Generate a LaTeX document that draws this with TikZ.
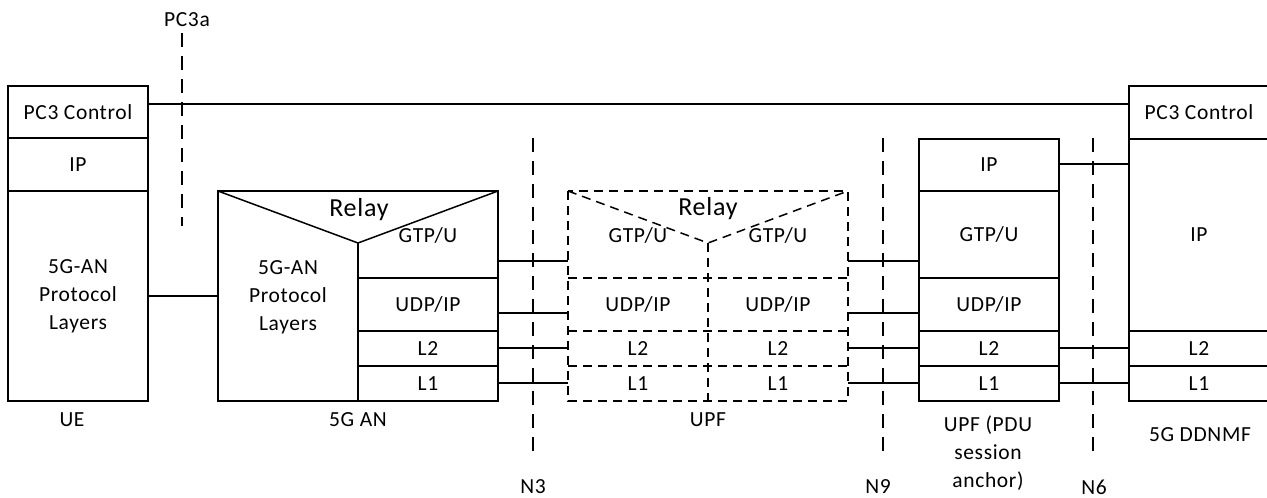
\documentclass[tikz,border=0pt]{standalone}
\usepackage{fontspec}
\setmainfont{Carlito}[LetterSpace=3]
\begin{document}
\begin{tikzpicture}[x=1pt,y=-1pt,
  every node/.style={font=\fontsize{21.5}{28}\selectfont},
  lay/.style={draw,line width=1.5pt,inner sep=0pt,align=center,minimum width=140pt},
  txt/.style={inner sep=0pt,align=center},
  conn/.style={line width=1.5pt},
  dbox/.style={dash pattern=on 9pt off 6pt,line width=1.5pt},
  iface/.style={line width=1.5pt,dash pattern=on 14pt off 9pt},
  relaytxt/.style={inner sep=0pt,font=\fontsize{26}{30}\selectfont}]
\useasboundingbox (0,0) rectangle (1267,498);
% UE
\node[lay,minimum height=52pt] (uepc3) at (78,112) {PC3 Control};
\node[lay,minimum height=53pt] (ueip) at (78,164.5) {IP};
\node[lay,minimum height=210pt] (uean) at (78,296) {5G-AN\\Protocol\\Layers};
\node[txt] (uelbl) at (72,420) {UE};
% 5G AN
\draw[conn] (218,191) rectangle (498,401);
\draw[conn] (218,191) -- (358,243) -- (498,191);
\draw[conn] (358,243) -- (358,401);
\node[relaytxt] (anrelay) at (359,210) {Relay};
\node[txt] (anproto) at (288,297) {5G-AN\\Protocol\\Layers};
\node[txt] (angtp) at (428,235) {GTP/U};
\node[lay,minimum height=53pt] (anudp) at (428,304.5) {UDP/IP};
\node[lay,minimum height=35pt] (anl2) at (428,348.5) {L2};
\node[lay,minimum height=35pt] (anl1) at (428,383.5) {L1};
\node[txt] (anlbl) at (358,420) {5G AN};
% UPF (dashed)
\draw[dbox] (568,191) rectangle (848,401);
\draw[dbox] (568,191) -- (708,243) -- (848,191);
\draw[dbox] (708,243) -- (708,401);
\draw[dbox] (568,278) -- (848,278);
\draw[dbox] (568,331) -- (848,331);
\draw[dbox] (568,366) -- (848,366);
\node[relaytxt] (uprelay) at (708,209) {Relay};
\node[txt] (upgtpa) at (638,235) {GTP/U};
\node[txt] (upgtpb) at (778,235) {GTP/U};
\node[txt] (upudpa) at (638,304.5) {UDP/IP};
\node[txt] (upudpb) at (778,304.5) {UDP/IP};
\node[txt] (upl2a) at (638,348.5) {L2};
\node[txt] (upl2b) at (778,348.5) {L2};
\node[txt] (upl1a) at (638,383.5) {L1};
\node[txt] (upl1b) at (778,383.5) {L1};
\node[txt] (uplbl) at (708,420) {UPF};
% UPF PDU session anchor
\node[lay,minimum height=52pt] (paip) at (989,165) {IP};
\node[lay,minimum height=87pt] (pagtp) at (989,234.5) {GTP/U};
\node[lay,minimum height=53pt] (paudp) at (989,304.5) {UDP/IP};
\node[lay,minimum height=35pt] (pal2) at (989,348.5) {L2};
\node[lay,minimum height=35pt] (pal1) at (989,383.5) {L1};
\node[txt] (palbl) at (988,453) {UPF (PDU\\session\\anchor)};
% 5G DDNMF
\node[lay,minimum height=53pt] (ddpc3) at (1199,112.5) {PC3 Control};
\node[lay,minimum height=192pt] (ddip) at (1199,235) {IP};
\node[lay,minimum height=35pt] (ddl2) at (1199,348.5) {L2};
\node[lay,minimum height=35pt] (ddl1) at (1199,383.5) {L1};
\node[txt] (ddlbl) at (1200,435) {5G DDNMF};
% connector end points
\coordinate (ueline) at (148,104);
\coordinate (ddline) at (1129,104);
\coordinate (anG) at (498,261); \coordinate (upGl) at (568,261);
\coordinate (anU) at (498,313); \coordinate (upUl) at (568,313);
\coordinate (anL2) at (498,348); \coordinate (upL2l) at (568,348);
\coordinate (anL1) at (498,383); \coordinate (upL1l) at (568,383);
\coordinate (upGr) at (848,261); \coordinate (paG) at (919,261);
\coordinate (upUr) at (848,313); \coordinate (paU) at (919,313);
\coordinate (upL2r) at (848,348); \coordinate (paL2) at (919,348);
\coordinate (upL1r) at (848,383); \coordinate (paL1) at (919,383);
\coordinate (paIPr) at (1059,164); \coordinate (ddIPl) at (1129,164);
\coordinate (paL2r) at (1059,348); \coordinate (ddL2l) at (1129,348);
\coordinate (paL1r) at (1059,383); \coordinate (ddL1l) at (1129,383);
\coordinate (anleft) at (218,296);
% connectors
\draw[conn] (ueline) -- (ddline);
\draw[conn] (uean.east) -- (anleft);
\draw[conn] (anG) -- (upGl);
\draw[conn] (anU) -- (upUl);
\draw[conn] (anL2) -- (upL2l);
\draw[conn] (anL1) -- (upL1l);
\draw[conn] (upGr) -- (paG);
\draw[conn] (upUr) -- (paU);
\draw[conn] (upL2r) -- (paL2);
\draw[conn] (upL1r) -- (paL1);
\draw[conn] (paIPr) -- (ddIPl);
\draw[conn] (paL2r) -- (ddL2l);
\draw[conn] (paL1r) -- (ddL1l);
% interfaces
\node[txt] (pc3a) at (187,20) {PC3a};
\coordinate (pc3atop) at (182,33); \coordinate (pc3abot) at (182,226);
\draw[iface] (pc3atop) -- (pc3abot);
\coordinate (n3top) at (533,138); \coordinate (n3bot) at (533,453);
\draw[iface] (n3top) -- (n3bot);
\node[txt] (n3) at (533,487) {N3};
\coordinate (n9top) at (883,138); \coordinate (n9bot) at (883,453);
\draw[iface] (n9top) -- (n9bot);
\node[txt] (n9) at (878,487) {N9};
\coordinate (n6top) at (1093,138); \coordinate (n6bot) at (1093,453);
\draw[iface] (n6top) -- (n6bot);
\node[txt] (n6) at (1094,487) {N6};
\end{tikzpicture}
\end{document}
